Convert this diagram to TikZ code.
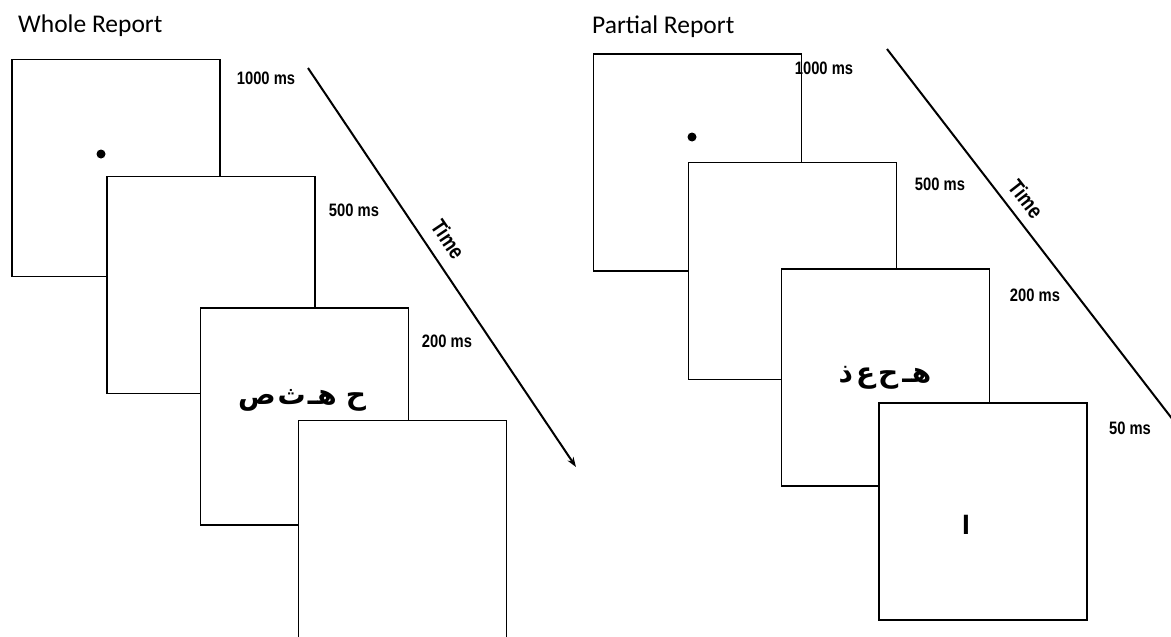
\documentclass[tikz,border=0pt]{standalone}
\usepackage{fontspec}
\usetikzlibrary{arrows.meta}
\newfontfamily\titlefont{Carlito}
\newfontfamily\msfont[FakeStretch=0.82]{Liberation Sans}
\newfontfamily\cuefont{Liberation Sans}
\newfontfamily\arabicfont[Script=Arabic]{DejaVu Sans}
\TeXXeTstate=1
\newcommand{\gap}[1]{\hspace{#1pt}}
\tikzset{
    frame/.style={draw, fill=white, line width=1.8pt, minimum width=208pt,
        minimum height=217pt, inner sep=0pt, outer sep=0pt},
    dur/.style={font=\fontsize{18}{18}\selectfont\msfont\bfseries},
    axislabel/.style={font=\fontsize{22}{22}\selectfont\msfont\bfseries, inner sep=0pt},
    heading/.style={anchor=base west, inner sep=0pt, font=\fontsize{25.5}{25.5}\selectfont\titlefont},
    letters/.style={font=\fontsize{28}{28}\selectfont\arabicfont\bfseries},
    timeline/.style={line width=2pt, -{Stealth[length=10pt, width=7pt]}}
}
\begin{document}
\begin{tikzpicture}[x=1pt, y=-1pt]
    \useasboundingbox (0,0) rectangle (1171,637);
    \clip (0,0) rectangle (1171,637);

    % whole report
    \node[heading] (wtitle) at (18,32) {Whole Report};

    \node[frame] (w1) at (116,168) {};
    \node[frame] (w2) at (211,285) {};
    \node[frame] (w3) at (304.5,416.5) {};
    \node[frame] (w4) at (402.5,529) {};

    \fill (101,154) circle (4.5pt);
    \node[letters] (wlet) at (302,400) {\beginR ح\gap{9}هـ\gap{2}ث\gap{2}ص\endR};

    \node[dur] (wd1) at (266,78) {1000 ms};
    \node[dur] (wd2) at (354,210) {500 ms};
    \node[dur] (wd3) at (447,341) {200 ms};

    \coordinate (wstart) at (308,68);
    \coordinate (wend) at (576,467);
    \draw[timeline] (wstart) -- (wend);
    \node[axislabel, rotate=-56] (wtime) at (448,239) {Time};

    % partial report
    \node[heading] (ptitle) at (592,34) {Partial Report};

    \node[frame] (p1) at (697.5,162.5) {};
    \node[frame] (p2) at (792.5,271) {};
    \node[frame] (p3) at (885.5,377.5) {};
    \node[frame] (p4) at (983,511.5) {};

    \fill (692,137) circle (4.5pt);
    \node[letters] (plet) at (885,378) {\beginR هـ\gap{4}ح\gap{3}ع\gap{3}ذ\endR};
    \node[font=\fontsize{28}{28}\selectfont\cuefont\bfseries] (pcue) at (966,525) {I};

    \node[dur] (pd1) at (824,68) {1000 ms};
    \node[dur] (pd2) at (940,184) {500 ms};
    \node[dur] (pd3) at (1035,295) {200 ms};
    \node[dur] (pd4) at (1130,428) {50 ms};

    \coordinate (pstart) at (887,49);
    \coordinate (pend) at (1180,429);
    \draw[timeline] (pstart) -- (pend);
    \node[axislabel, rotate=-52] (ptime) at (1026,199) {Time};
\end{tikzpicture}
\end{document}
